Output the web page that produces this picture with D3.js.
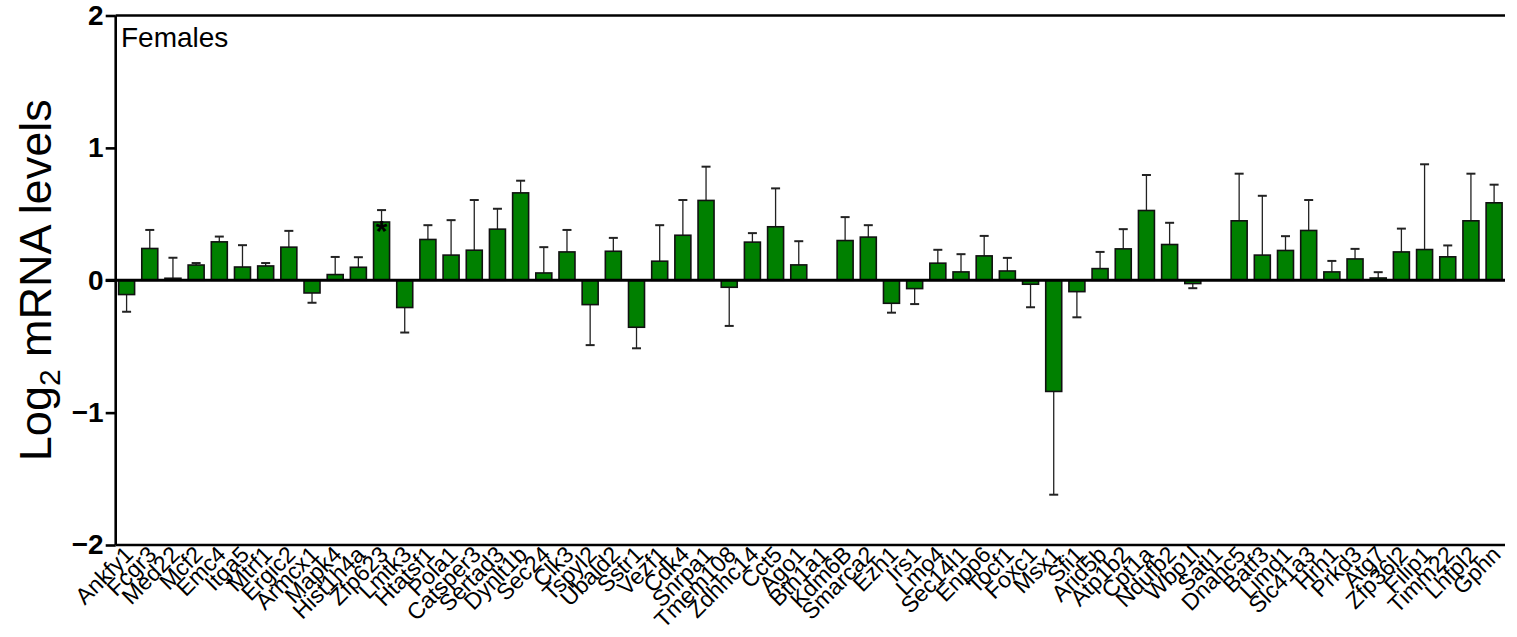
<!DOCTYPE html>
<html><head><meta charset="utf-8">
<script src="https://cdn.jsdelivr.net/npm/d3@7"></script>
<style>html,body{margin:0;padding:0;background:#fff;}svg{display:block;font-family:Arial,"Liberation Sans",sans-serif;}</style>
</head><body>
<svg id="chart" width="1517" height="637"></svg>
<script>
const genes = ["Ankfy1","Fcgr3","Med22","Mcf2","Emc4","Itga5","Mtrf1","Ergic2","Armcx1","Mapk4","Hist1h4a","Zfp623","Lmtk3","Htatsf1","Pola1","Catsper3","Sertad3","Dynlt1b","Sec24","Clk3","Tspyl2","Ubald2","Sstr1","Vezf1","Cdk4","Snrpa1","Tmem108","Zdhhc14","Cct5","Ago1","Btn1a1","Kdm6B","Smarca2","Ezh1","Irs1","Lmo4","Sec14l1","Enpp6","Tocf1","Foxc1","Msx1","Sfi1","Arid5b","Atp1b2","Cpt1a","Ndufb2","Wbp1l","Satl1","Dnahc5","Batf3","Limd1","Slc41a3","Hrh1","Prkd3","Atg7","Zfp36l2","Filip1","Timm22","Lhfpl2","Gphn"];
const means = [-0.108,0.24,0.015,0.115,0.29,0.10,0.108,0.25,-0.096,0.043,0.098,0.44,-0.206,0.308,0.19,0.227,0.386,0.66,0.055,0.214,-0.184,0.219,-0.355,0.144,0.34,0.603,-0.053,0.288,0.404,0.116,0,0.30,0.326,-0.174,-0.063,0.129,0.063,0.184,0.07,-0.03,-0.84,-0.086,0.088,0.237,0.527,0.27,-0.025,0,0.449,0.19,0.225,0.376,0.063,0.161,0.017,0.214,0.232,0.177,0.449,0.585];
const sems = [0.13,0.14,0.155,0.015,0.04,0.165,0.022,0.123,0.074,0.133,0.076,0.09,0.189,0.108,0.264,0.379,0.154,0.092,0.195,0.166,0.306,0.101,0.159,0.272,0.266,0.255,0.292,0.068,0.29,0.179,0,0.177,0.09,0.071,0.117,0.101,0.134,0.151,0.099,0.174,0.78,0.194,0.126,0.149,0.268,0.164,0.035,0,0.356,0.448,0.108,0.23,0.083,0.076,0.044,0.176,0.644,0.086,0.356,0.137];
const significant = ["Zfp623"];
const yTicks = [-2,-1,0,1,2];
const panelLabel = "Females";

(function(){
const svg = d3.select("#chart");
const L = 115.7, R = 1505, T = 15.5, B = 545;
const x = d3.scaleBand().domain(genes).range([L, R]).paddingInner(0.31).paddingOuter(0.125);
const y = d3.scaleLinear().domain([-2, 2]).range([B, T]);
const data = genes.map((g, i) => ({g, m: means[i], s: sems[i]}));

svg.append("line").attr("x1", L).attr("x2", R).attr("y1", y(2)).attr("y2", y(2)).attr("stroke", "#000").attr("stroke-width", 2.4);
svg.append("line").attr("x1", L).attr("x2", R).attr("y1", y(-2)).attr("y2", y(-2)).attr("stroke", "#000").attr("stroke-width", 2.4);

const yAxis = svg.append("g").attr("transform", `translate(${L},0)`)
  .call(d3.axisLeft(y).tickValues(yTicks).tickSize(10).tickPadding(2).tickFormat(d3.format("d")));
yAxis.select(".domain").attr("stroke-width", 2.6).attr("d", `M0,${T}V${B}`);
yAxis.selectAll(".tick line").attr("stroke-width", 2.6);
yAxis.selectAll(".tick text").attr("font-size", 28).attr("font-weight", "bold").attr("font-family", "Arial, 'Liberation Sans', sans-serif").attr("fill", "#000");

const eb = svg.append("g");
data.filter(d => d.s > 0).forEach(d => {
  const cx = x(d.g) + x.bandwidth() / 2;
  const end = d.m >= 0 ? d.m + d.s : d.m - d.s;
  eb.append("line").attr("x1", cx).attr("x2", cx).attr("y1", y(d.m)).attr("y2", y(end)).attr("stroke", "#222").attr("stroke-width", 1.3);
  eb.append("line").attr("x1", cx - 4.5).attr("x2", cx + 4.5).attr("y1", y(end)).attr("y2", y(end)).attr("stroke", "#222").attr("stroke-width", 2);
});

svg.append("g").selectAll("rect").data(data.filter(d => d.m !== 0)).join("rect")
  .attr("x", d => x(d.g))
  .attr("width", x.bandwidth())
  .attr("y", d => y(Math.max(0, d.m)))
  .attr("height", d => Math.abs(y(d.m) - y(0)))
  .attr("fill", "#008000").attr("stroke", "#111").attr("stroke-width", 1.6);

svg.append("line").attr("x1", L - 10).attr("x2", R).attr("y1", y(0)).attr("y2", y(0)).attr("stroke", "#000").attr("stroke-width", 2.8);

data.filter(d => significant.includes(d.g)).forEach(d => {
  svg.append("text").attr("x", x(d.g) + x.bandwidth() / 2).attr("y", y(d.m) + 19)
    .attr("text-anchor", "middle").attr("font-size", 30).attr("font-weight", "bold").text("*");
});

svg.append("g").selectAll("text").data(genes).join("text")
  .attr("transform", g => `translate(${x(g) + x.bandwidth() / 2 + 8},${556}) rotate(-45)`)
  .attr("text-anchor", "end").attr("font-size", 23).attr("fill", "#000").text(g => g);

svg.append("text").attr("x", 121).attr("y", 47).attr("font-size", 28).text(panelLabel);

const yt = svg.append("text").attr("transform", `translate(51,${(T + B) / 2}) rotate(-90)`)
  .attr("text-anchor", "middle").attr("font-size", 45).attr("fill", "#000");
yt.append("tspan").text("Log");
yt.append("tspan").attr("font-size", 30).attr("dy", 9).text("2");
yt.append("tspan").attr("dy", -9).text(" mRNA levels");
})();
</script>
</body></html>
